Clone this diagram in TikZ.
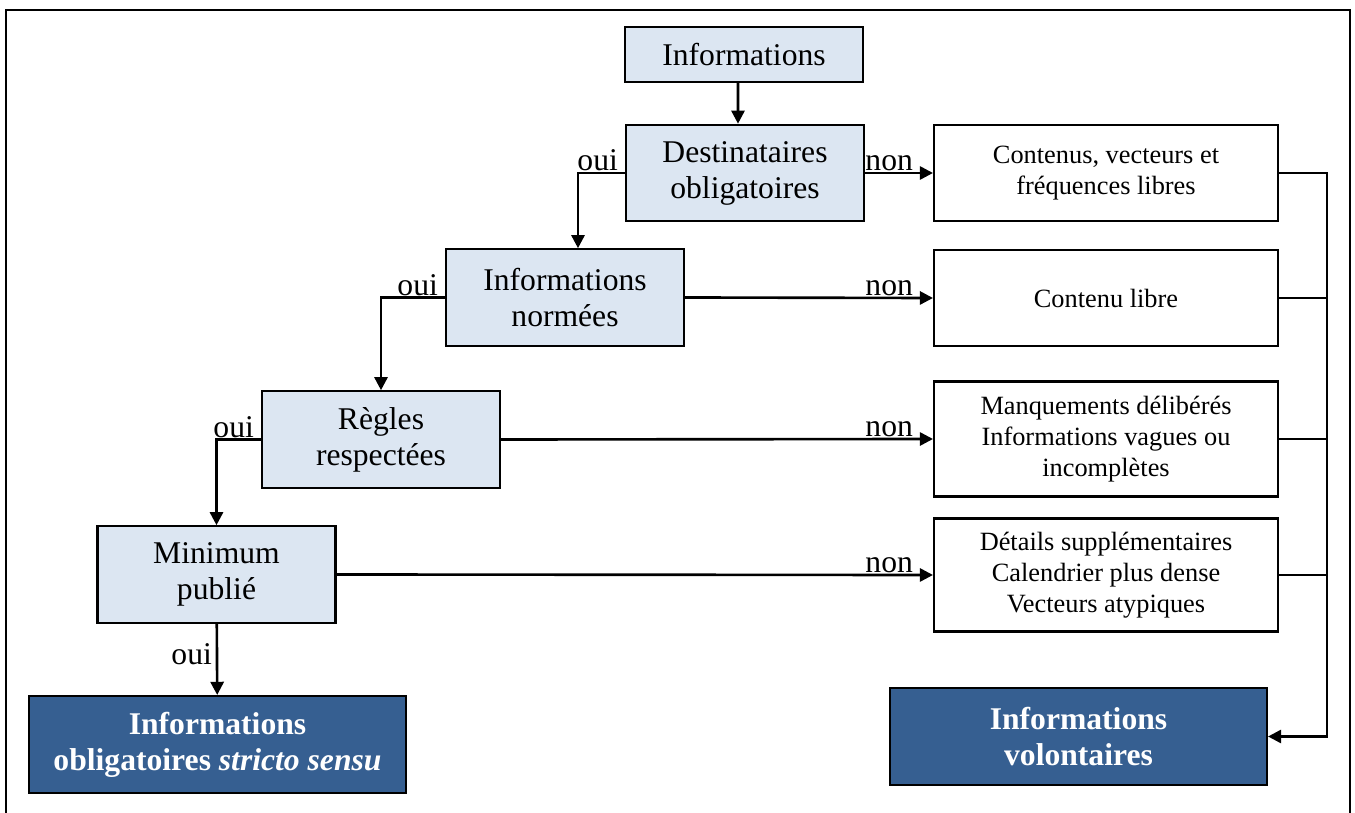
\documentclass[tikz,border=0pt]{standalone}
\usepackage{fontspec}
\setmainfont{Liberation Serif}
\usetikzlibrary{positioning}
\usetikzlibrary{arrows.meta}

\definecolor{paleblue}{RGB}{220,230,242}
\definecolor{darkblue}{RGB}{54,95,145}

\begin{document}
\begin{tikzpicture}[x=0.02cm, y=-0.02cm,
	qbox/.style={draw, line width=1.2pt, fill=paleblue, align=center, minimum width=4.76cm, minimum height=1.93cm, inner sep=0pt, font=\fontsize{18}{20.5}\selectfont},
	rbox/.style={draw, line width=1.2pt, fill=white, align=center, minimum width=6.88cm, inner sep=0pt, font=\fontsize{15}{17.5}\selectfont},
	endbox/.style={draw, line width=1.2pt, fill=darkblue, text=white, align=center, minimum width=7.54cm, minimum height=1.94cm, inner sep=0pt, font=\fontsize{18}{20.5}\selectfont\bfseries},
	lbl/.style={inner sep=1pt, font=\fontsize{18}{20}\selectfont},
	link/.style={line width=1.5pt},
	arr/.style={line width=1.5pt, -{Triangle[length=7.5pt,width=7.5pt]}}]
				
				\useasboundingbox (0,0) rectangle (1355,813);
				\draw[line width=1.4pt] (6,813) |- (1350,10) -- (1350,813);
				
				% questions
				\node[qbox, minimum height=1.1cm] (Info) at (744,54.5) {Informations};
				\node[qbox] (Dest) at (745,173) {Destinataires\\obligatoires};
				\node[qbox] (Norm) at (565,297.5) {Informations\\normées};
				\node[qbox] (Regl) at (381,439.5) {Règles\\respectées};
				\node[qbox] (Mini) at (216.5,574.5) {Minimum\\publié};
				
				% right column
				\node[rbox, minimum height=1.92cm] (Cont) at (1106,173) {Contenus, vecteurs et\\fréquences libres};
				\node[rbox, minimum height=1.92cm] (Libr) at (1106,298) {Contenu libre};
				\node[rbox, minimum height=2.3cm] (Manq) at (1106,439) {Manquements délibérés\\Informations vagues ou\\incomplètes};
				\node[rbox, minimum height=2.26cm] (Deta) at (1106,575) {Détails supplémentaires\\Calendrier plus dense\\Vecteurs atypiques};
				
				% results
				\node[endbox] (Oblig) at (217.5,744.5) {Informations\\obligatoires \textit{stricto sensu}};
				\node[endbox] (Volo) at (1078.5,736.5) {Informations\\volontaires};
				\coordinate (Bus) at (1327,736.5);
				
				\draw[arr] ([xshift=-0.12cm]Info.south) -- ([xshift=-0.14cm]Dest.north);
				
				\draw[arr] (Dest.west) -| ([xshift=0.26cm]Norm.north);
				\draw[arr] (Norm.west) -| (Regl.north);
				\draw[arr] (Regl.west) -| (Mini.north);
				\draw[arr] (Mini) -- (Oblig);
				
				\node[lbl, anchor=south east] (O1) at ([xshift=-0.1cm]Dest.west) {oui};
				\node[lbl, anchor=south east] (O2) at ([xshift=-0.1cm]Norm.west) {oui};
				\node[lbl, anchor=south east] (O3) at ([xshift=-0.1cm]Regl.west) {oui};
				\node[lbl, anchor=east] (O4) at ([xshift=-0.05cm,yshift=-0.6cm]Mini.south) {oui};
				
				\draw[arr] (Dest.east) -- (Cont.west);
				\draw[arr] (Norm.east) -- (Libr.west);
				\draw[arr] (Regl.east) -- (Manq.west);
				\draw[arr] (Mini.east) -- (Deta.west);
				
				\node[lbl, anchor=south east] (N1) at ([xshift=-0.36cm]Cont.west) {non};
				\node[lbl, anchor=south east] (N2) at ([xshift=-0.36cm]Libr.west) {non};
				\node[lbl, anchor=south east] (N3) at ([xshift=-0.36cm]Manq.west) {non};
				\node[lbl, anchor=south east] (N4) at ([xshift=-0.36cm]Deta.west) {non};
				
				\draw[arr] (Cont.east) -| (Bus) -- (Volo.east);
				\draw[link] (Libr.east) -- (Libr.east -| Bus);
				\draw[link] (Manq.east) -- (Manq.east -| Bus);
				\draw[link] (Deta.east) -- (Deta.east -| Bus);
				
			\end{tikzpicture}
\end{document}
